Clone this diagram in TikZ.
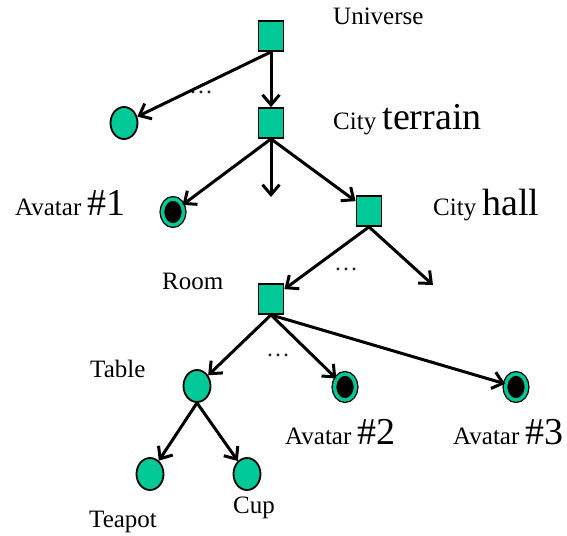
\documentclass[tikz,border=0pt]{standalone}
\usepackage{fontspec}
\setmainfont{Liberation Serif}
\usetikzlibrary{shapes.geometric,arrows.meta}
\definecolor{leaf}{RGB}{0,200,150}
\newcommand\bigtxt{\fontsize{38}{40}\selectfont}

\begin{document}
\begin{tikzpicture}[x=1pt,y=-1pt,
    box/.style={draw,line width=1.8pt,fill=leaf,minimum width=25pt,minimum height=30pt,inner sep=0pt},
    ball/.style={ellipse,draw,line width=1.8pt,fill=leaf,minimum width=27pt,minimum height=32pt,inner sep=0pt},
    avatar/.style={ellipse,draw,line width=1.3pt,double=leaf,double distance=3.5pt,fill=black,minimum width=21pt,minimum height=26pt,inner sep=0pt},
    txt/.style={font=\fontsize{25}{27}\selectfont,anchor=base west,inner sep=0pt},
    dots/.style={font=\fontsize{24}{26}\selectfont,text=black!85,inner sep=0pt}]
  \useasboundingbox (0,0) rectangle (567,535);
  % the scene graph nodes
  \draw
    (271,36) node[box] (universe){}
    (271,123) node[box] (terrain){}
    (369,211) node[box] (hall){}
    (271,299) node[box] (room){}
    (124,123) node[ball] (other){}
    (197,386) node[ball] (table){}
    (150,474) node[ball] (teapot){}
    (247,474) node[ball] (cup){}
    (173,212) node[avatar] (av1){}
    (345,387) node[avatar] (av2){}
    (516,387) node[avatar] (av3){};
  \coordinate (terrainmore) at (271,197);
  \coordinate (hallmore) at (433,285);
  % names
  \node[txt] (universelbl) at (333,25) {Universe};
  \node[txt] (terrainlbl) at (333,129) {City {\bigtxt terrain}};
  \node[txt] (halllbl) at (433,215) {City {\bigtxt hall}};
  \node[txt] (av1lbl) at (15,215) {Avatar {\bigtxt\#1}};
  \node[txt] (roomlbl) at (162,289) {Room};
  \node[txt] (tablelbl) at (90,377) {Table};
  \node[txt] (av2lbl) at (285,444) {Avatar {\bigtxt\#2}};
  \node[txt] (av3lbl) at (453,444) {Avatar {\bigtxt\#3}};
  \node[txt] (teapotlbl) at (89,527) {Teapot};
  \node[txt] (cuplbl) at (233,513) {Cup};
  \node[dots] (dots1) at (201,92) {\dots};
  \node[dots] (dots2) at (346,269) {\dots};
  \node[dots] (dots3) at (278,355) {\dots};
  \begin{scope}[-{Straight Barb[length=10pt,width=17pt]},line width=3pt]
    \draw (universe.south) to (other);
    \draw (universe.south) to (terrain);
    \draw (terrain.south) to (av1);
    \draw (terrain.south) to (terrainmore);
    \draw (terrain.south) to (hall);
    \draw (hall.south) to (room);
    \draw (hall.south) to (hallmore);
    \draw (room.south) to (table);
    \draw (room.south) to (av2);
    \draw (room.south) to (av3);
    \draw (table.south) to (teapot);
    \draw (table.south) to (cup);
  \end{scope}
\end{tikzpicture}
\end{document}
